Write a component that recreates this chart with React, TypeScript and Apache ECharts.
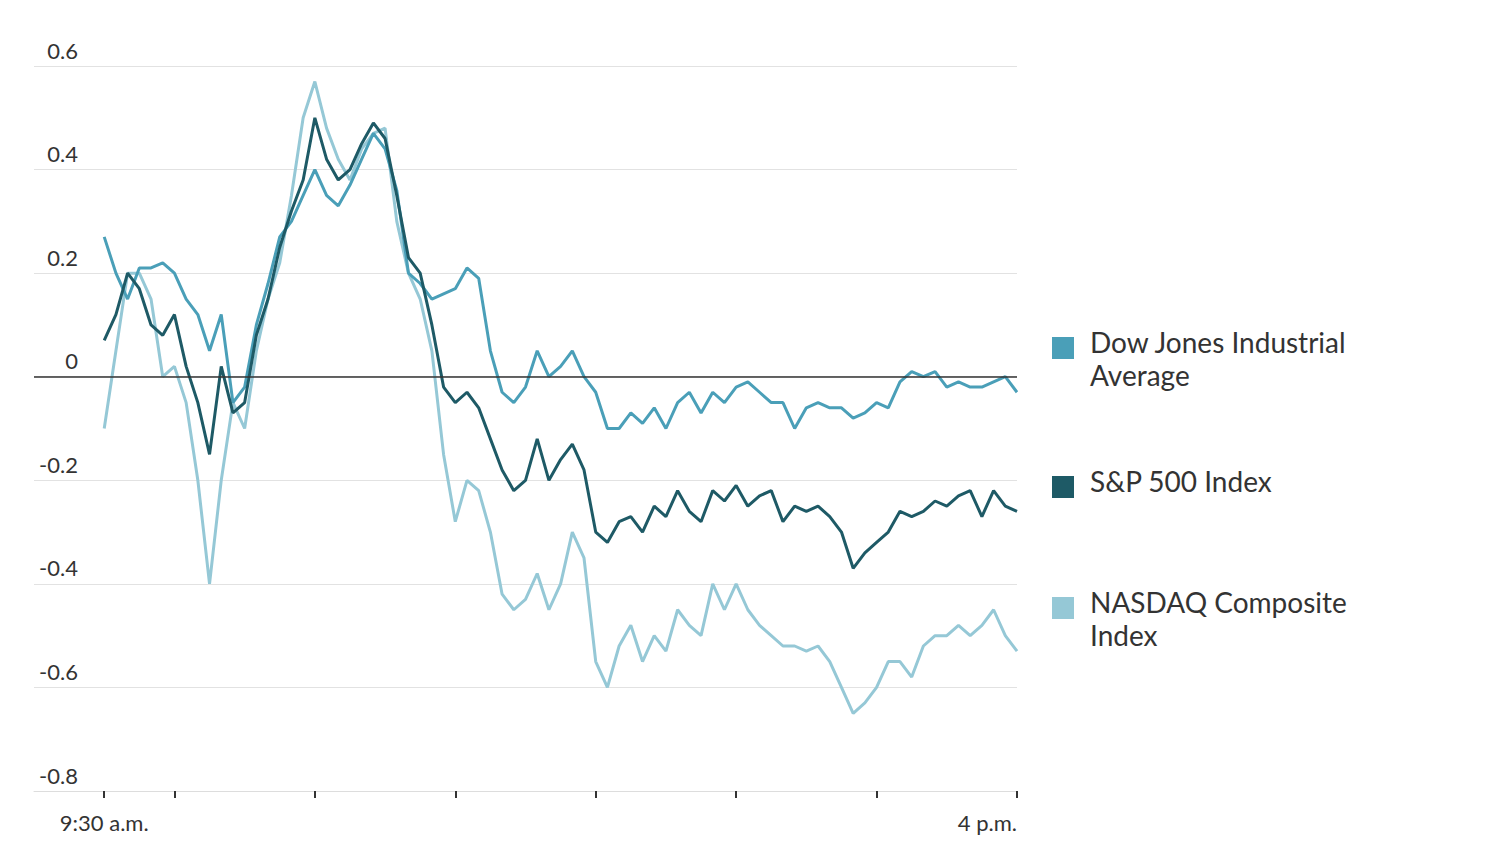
import React, { useEffect, useRef } from "react";
import * as echarts from "echarts";

const dow = [0.27,0.2,0.15,0.21,0.21,0.22,0.2,0.15,0.12,0.05,0.12,-0.05,-0.02,0.1,0.18,0.27,0.3,0.35,0.4,0.35,0.33,0.37,0.42,0.47,0.44,0.36,0.2,0.18,0.15,0.16,0.17,0.21,0.19,0.05,-0.03,-0.05,-0.02,0.05,0.0,0.02,0.05,0.0,-0.03,-0.1,-0.1,-0.07,-0.09,-0.06,-0.1,-0.05,-0.03,-0.07,-0.03,-0.05,-0.02,-0.01,-0.03,-0.05,-0.05,-0.1,-0.06,-0.05,-0.06,-0.06,-0.08,-0.07,-0.05,-0.06,-0.01,0.01,0.0,0.01,-0.02,-0.01,-0.02,-0.02,-0.01,0.0,-0.03];
const sp = [0.07,0.12,0.2,0.17,0.1,0.08,0.12,0.02,-0.05,-0.15,0.02,-0.07,-0.05,0.08,0.15,0.25,0.32,0.38,0.5,0.42,0.38,0.4,0.45,0.49,0.46,0.35,0.23,0.2,0.1,-0.02,-0.05,-0.03,-0.06,-0.12,-0.18,-0.22,-0.2,-0.12,-0.2,-0.16,-0.13,-0.18,-0.3,-0.32,-0.28,-0.27,-0.3,-0.25,-0.27,-0.22,-0.26,-0.28,-0.22,-0.24,-0.21,-0.25,-0.23,-0.22,-0.28,-0.25,-0.26,-0.25,-0.27,-0.3,-0.37,-0.34,-0.32,-0.3,-0.26,-0.27,-0.26,-0.24,-0.25,-0.23,-0.22,-0.27,-0.22,-0.25,-0.26];
const nasdaq = [-0.1,0.05,0.2,0.2,0.15,0.0,0.02,-0.05,-0.2,-0.4,-0.2,-0.05,-0.1,0.05,0.15,0.22,0.35,0.5,0.57,0.48,0.42,0.38,0.44,0.47,0.48,0.3,0.2,0.15,0.05,-0.15,-0.28,-0.2,-0.22,-0.3,-0.42,-0.45,-0.43,-0.38,-0.45,-0.4,-0.3,-0.35,-0.55,-0.6,-0.52,-0.48,-0.55,-0.5,-0.53,-0.45,-0.48,-0.5,-0.4,-0.45,-0.4,-0.45,-0.48,-0.5,-0.52,-0.52,-0.53,-0.52,-0.55,-0.6,-0.65,-0.63,-0.6,-0.55,-0.55,-0.58,-0.52,-0.5,-0.5,-0.48,-0.5,-0.48,-0.45,-0.5,-0.53];
const tickMinutes = [30, 60, 120, 180, 240, 300, 360, 420];
const labelMinutes = [30, 420];
const labelText: Record<number, string> = { 30: "9:30 a.m.", 420: "4 p.m." };
const names = [["Dow Jones Industrial", "Average"], ["S&P 500 Index"], ["NASDAQ Composite", "Index"]];
const colors = ["#4a9fb8", "#1e5a66", "#95c8d6"];

const toPts = (arr: number[]) => arr.map((v, i) => [30 + (i * 390) / (arr.length - 1), v]);

export default function App() {
  const ref = useRef<HTMLDivElement>(null);
  useEffect(() => {
    document.body.style.margin = "0";
    const chart = echarts.init(ref.current!, null, { renderer: "svg" });
    const font = "Lato, 'Open Sans', sans-serif";
    const legendY = [346, 485, 606];
    chart.setOption({
      animation: false,
      backgroundColor: "#fff",
      grid: { left: 34, right: 483, top: 66, bottom: 59 },
      xAxis: {
        type: "value", min: 0, max: 420,
        axisLine: { show: true, onZero: false, lineStyle: { color: "#ddd" } },
        axisTick: { show: true, customValues: tickMinutes, length: 7, lineStyle: { color: "#333", width: 2 } },
        axisLabel: { customValues: labelMinutes, formatter: (v: number) => labelText[v] || "", fontFamily: font, fontSize: 22, color: "#333", margin: 20,
          align: "center", alignMaxLabel: "right" },
        splitLine: { show: false },
      },
      yAxis: {
        type: "value", min: -0.8, max: 0.6, interval: 0.2,
        axisLine: { show: false }, axisTick: { show: false },
        axisLabel: { inside: true, align: "right", verticalAlign: "bottom", margin: 44, padding: [0, 0, 5, 0], fontFamily: font, fontSize: 22, color: "#333",
          formatter: (v: number) => (Math.abs(v) < 1e-9 ? "0" : String(Math.round(v * 10) / 10)) },
        splitLine: { lineStyle: { color: "#e2e2e2" } },
      },
      series: [
        { name: "NASDAQ", type: "line", data: toPts(nasdaq), showSymbol: false, lineStyle: { color: colors[2], width: 3 }, z: 2 },
        { name: "Dow", type: "line", data: toPts(dow), showSymbol: false, lineStyle: { color: colors[0], width: 3 }, z: 3 },
        { name: "SP", type: "line", data: toPts(sp), showSymbol: false, lineStyle: { color: colors[1], width: 3 }, z: 4,
          markLine: { silent: true, symbol: "none", label: { show: false }, lineStyle: { color: "#333", width: 1.5, type: "solid" }, data: [{ yAxis: 0 }] } },
      ],
      graphic: names.flatMap((lines, i) => [
        { type: "rect", left: 1052, top: legendY[i] - 9, shape: { width: 22, height: 22 }, style: { fill: colors[i] } },
        ...lines.map((t, j) => ({ type: "text", left: 1090, top: legendY[i] - 18 + j * 33, style: { text: t, font: `28px ${font}`, fill: "#333" } })),
      ]),
    });
    return () => chart.dispose();
  }, []);
  return <div ref={ref} style={{ width: 1500, height: 850 }} />;
}
